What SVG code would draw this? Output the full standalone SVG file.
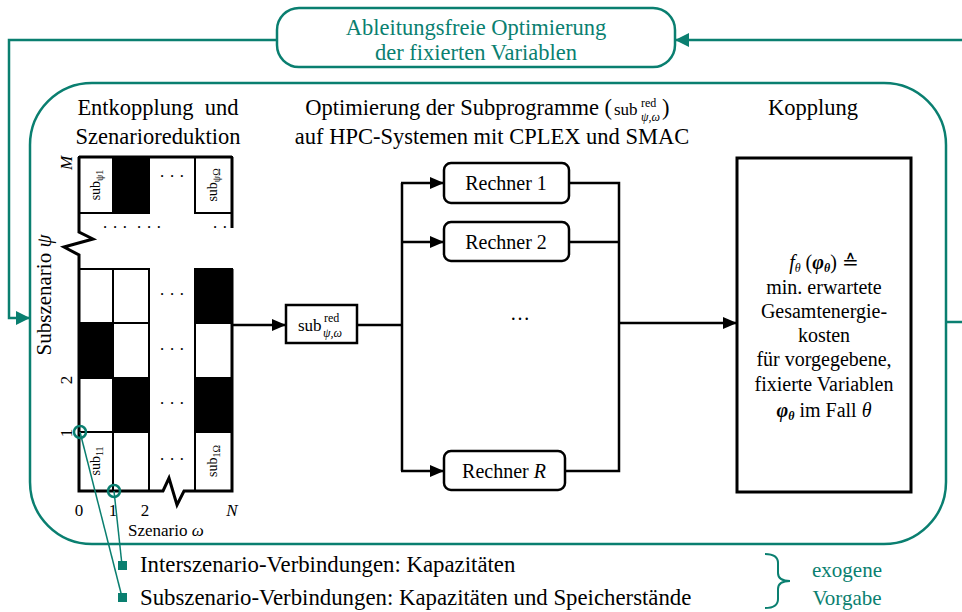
<svg xmlns="http://www.w3.org/2000/svg" width="962" height="612" viewBox="0 0 962 612">
<style>
text{font-family:"Liberation Serif","Times New Roman",serif;fill:#000}
.t{fill:#0a7f70}
.h{font-size:22.5px}
.k{font-size:20px}
.teal{fill:none;stroke:#0a7f70;stroke-width:2.5}
.blk{fill:none;stroke:#000;stroke-width:2.5}
.cw{fill:#fff;stroke:#000;stroke-width:2}
.cb{fill:#000;stroke:#000;stroke-width:2}
.lbl{font-size:14px}
.ax{font-size:17px}
.dot{font-size:17px}
</style>
<defs>
<marker id="ab" markerWidth="14" markerHeight="12" refX="14" refY="6" orient="auto" markerUnits="userSpaceOnUse"><path d="M0,0 L14,6 L0,12 z" fill="#000"/></marker>
<marker id="at" markerWidth="14" markerHeight="14" refX="14" refY="7" orient="auto" markerUnits="userSpaceOnUse"><path d="M0,0 L14,7 L0,14 z" fill="#0a7f70"/></marker>
</defs>
<rect width="962" height="612" fill="#fff"/>

<g id="frame">
<rect x="30" y="83" width="916" height="461" rx="62" class="teal"/>
</g>

<g id="opt-top">
<rect x="277" y="8" width="398" height="59" rx="22" class="teal" fill="#fff"/>
<text x="476" y="35" text-anchor="middle" class="t h">Ableitungsfreie Optimierung</text>
<text x="476" y="60" text-anchor="middle" class="t h">der fixierten Variablen</text>
</g>

<g id="headings">
<text x="158" y="115" text-anchor="middle" class="h" xml:space="preserve">Entkopplung  und</text>
<text x="158" y="144" text-anchor="middle" class="h">Szenarioreduktion</text>
<text x="612" y="115" text-anchor="end" class="h">Optimierung der Subprogramme (</text>
<text x="614" y="115" font-size="17px">sub</text>
<text x="641" y="107" font-size="12px">red</text>
<text x="641" y="121" font-size="12px" font-style="italic">ψ,ω</text>
<text x="662" y="115" class="h">)</text>
<text x="492" y="144" text-anchor="middle" class="h">auf HPC-Systemen mit CPLEX und SMAC</text>
<text x="813" y="115" text-anchor="middle" class="h">Kopplung</text>
</g>

<g id="grid">
<rect x="79" y="157" width="34" height="56" class="cw"/>
<rect x="113" y="157" width="36" height="56" class="cb"/>
<rect x="195" y="157" width="37" height="56" class="cw"/>
<line x1="79" y1="157" x2="232" y2="157" stroke="#000" stroke-width="3"/>
<rect x="79" y="269" width="34" height="54" class="cw"/>
<rect x="113" y="269" width="36" height="54" class="cw"/>
<rect x="195" y="269" width="37" height="54" class="cb"/>
<rect x="79" y="323" width="34" height="55" class="cb"/>
<rect x="113" y="323" width="36" height="55" class="cw"/>
<rect x="195" y="323" width="37" height="55" class="cw"/>
<rect x="79" y="378" width="34" height="54" class="cw"/>
<rect x="113" y="378" width="36" height="54" class="cb"/>
<rect x="195" y="378" width="37" height="54" class="cb"/>
<rect x="79" y="432" width="34" height="59" class="cw"/>
<rect x="113" y="432" width="36" height="59" class="cw"/>
<rect x="195" y="432" width="37" height="59" class="cw"/>
<polyline points="79,157 79,232 93,239 64,247 79,255 79,491 163,491 169,478 177,505 184,491 232,491 232,269" fill="none" stroke="#000" stroke-width="3"/>
<line x1="232" y1="157" x2="232" y2="228" stroke="#000" stroke-width="3"/>
<text x="172" y="182" text-anchor="middle" class="dot">· · ·</text>
<text x="132" y="233" text-anchor="middle" class="dot" xml:space="preserve">· · ·  · · ·</text>
<text x="220" y="233" text-anchor="middle" class="dot">· ·</text>
<text x="172" y="300" text-anchor="middle" class="dot">· · ·</text>
<text x="172" y="355" text-anchor="middle" class="dot">· · ·</text>
<text x="172" y="409" text-anchor="middle" class="dot">· · ·</text>
<text x="172" y="465" text-anchor="middle" class="dot">· · ·</text>
<text transform="translate(100,185) rotate(-90)" text-anchor="middle" class="lbl">sub<tspan font-size="10px" dy="3">ψ1</tspan></text>
<text transform="translate(217,185) rotate(-90)" text-anchor="middle" class="lbl">sub<tspan font-size="10px" dy="3">ψΩ</tspan></text>
<text transform="translate(100,461) rotate(-90)" text-anchor="middle" class="lbl">sub<tspan font-size="10px" dy="3">11</tspan></text>
<text transform="translate(217,461) rotate(-90)" text-anchor="middle" class="lbl">sub<tspan font-size="10px" dy="3">1Ω</tspan></text>
<text transform="translate(72,163) rotate(-90)" text-anchor="middle" class="ax" font-style="italic">M</text>
<text transform="translate(72,380) rotate(-90)" text-anchor="middle" class="ax">2</text>
<text transform="translate(72,433) rotate(-90)" text-anchor="middle" class="ax">1</text>
<text transform="translate(51,295) rotate(-90)" text-anchor="middle" font-size="21px">Subszenario <tspan font-style="italic">ψ</tspan></text>
<text x="79" y="516" text-anchor="middle" class="ax">0</text>
<text x="113" y="516" text-anchor="middle" class="ax">1</text>
<text x="145" y="516" text-anchor="middle" class="ax">2</text>
<text x="232" y="516" text-anchor="middle" class="ax" font-style="italic">N</text>
<text x="128" y="536" class="ax">Szenario <tspan font-style="italic">ω</tspan></text>
</g>

<g id="sub-red">
<rect x="286" y="305" width="71" height="38" class="blk" fill="#fff"/>
<text x="298" y="331" font-size="17px">sub</text>
<text x="324" y="322" font-size="12px">red</text>
<text x="323" y="337" font-size="12px" font-style="italic">ψ,ω</text>
</g>

<g id="rechner1">
<rect x="444" y="163" width="125" height="40" rx="7" class="blk" fill="#fff"/>
<text x="506" y="190" text-anchor="middle" class="k">Rechner 1</text>
</g>
<g id="rechner2">
<rect x="444" y="222" width="125" height="39" rx="7" class="blk" fill="#fff"/>
<text x="506" y="249" text-anchor="middle" class="k">Rechner 2</text>
</g>
<g id="rechnerR">
<rect x="444" y="451" width="121" height="39" rx="7" class="blk" fill="#fff"/>
<text x="504" y="478" text-anchor="middle" class="k">Rechner <tspan font-style="italic">R</tspan></text>
</g>
<text x="520" y="320" text-anchor="middle" class="k">…</text>

<g id="kopplung">
<rect x="737" y="158" width="174" height="334" fill="#fff" stroke="#000" stroke-width="3"/>
<text x="824" y="269" text-anchor="middle" class="k"><tspan font-style="italic">f</tspan><tspan font-style="italic" font-size="12px" dy="3">θ</tspan><tspan dy="-3"> (</tspan><tspan font-style="italic" font-weight="bold">φ</tspan><tspan font-style="italic" font-weight="bold" font-size="12px" dy="3">θ</tspan><tspan dy="-3">) ≙</tspan></text>
<text x="824" y="294" text-anchor="middle" class="k">min. erwartete</text>
<text x="824" y="318" text-anchor="middle" class="k">Gesamtenergie-</text>
<text x="824" y="342" text-anchor="middle" class="k">kosten</text>
<text x="824" y="366" text-anchor="middle" class="k">für vorgegebene,</text>
<text x="824" y="391" text-anchor="middle" class="k">fixierte Variablen</text>
<text x="824" y="417" text-anchor="middle" class="k"><tspan font-style="italic" font-weight="bold">φ</tspan><tspan font-style="italic" font-weight="bold" font-size="12px" dy="3">θ</tspan><tspan dy="-3"> im Fall </tspan><tspan font-style="italic">θ</tspan></text>
</g>

<g id="legend">
<rect x="118" y="561" width="9" height="9" fill="#0a7f70"/>
<rect x="118" y="593" width="9" height="9" fill="#0a7f70"/>
<text x="140" y="572" font-size="22.8px">Interszenario-Verbindungen: Kapazitäten</text>
<text x="140" y="605" font-size="22.8px">Subszenario-Verbindungen: Kapazitäten und Speicherstände</text>
<path d="M765,554 Q778,554 778,563 L778,573 Q778,581 790,581 Q778,581 778,589 L778,599 Q778,608 765,608" fill="none" stroke="#0a7f70" stroke-width="2"/>
<text x="847" y="577" text-anchor="middle" class="t" font-size="21px">exogene</text>
<text x="847" y="605" text-anchor="middle" class="t" font-size="21px">Vorgabe</text>
</g>

<g id="connectors">
<polyline points="277,40 9,40 9,318 30,318" fill="none" stroke="#0a7f70" stroke-width="2.5" marker-end="url(#at)"/>
<line x1="962" y1="40" x2="675" y2="40" stroke="#0a7f70" stroke-width="2.5" marker-end="url(#at)"/>
<line x1="946" y1="322" x2="962" y2="322" stroke="#0a7f70" stroke-width="2.5"/>
<line x1="232" y1="325" x2="286" y2="325" stroke="#000" stroke-width="2.5" marker-end="url(#ab)"/>
<polyline points="357,325 402,325" fill="none" stroke="#000" stroke-width="2.5"/>
<line x1="402" y1="183" x2="402" y2="471" stroke="#000" stroke-width="2.5"/>
<line x1="401" y1="183" x2="444" y2="183" stroke="#000" stroke-width="2.5" marker-end="url(#ab)"/>
<line x1="401" y1="242" x2="444" y2="242" stroke="#000" stroke-width="2.5" marker-end="url(#ab)"/>
<line x1="401" y1="471" x2="444" y2="471" stroke="#000" stroke-width="2.5" marker-end="url(#ab)"/>
<polyline points="569,183 619,183 619,471 565,471" fill="none" stroke="#000" stroke-width="2.5"/>
<line x1="569" y1="242" x2="619" y2="242" stroke="#000" stroke-width="2.5"/>
<line x1="619" y1="323" x2="737" y2="323" stroke="#000" stroke-width="2.5" marker-end="url(#ab)"/>
<circle cx="80" cy="432" r="6" fill="none" stroke="#0a7f70" stroke-width="2.5"/>
<circle cx="114" cy="491" r="6" fill="none" stroke="#0a7f70" stroke-width="2.5"/>
<line x1="80" y1="432" x2="122" y2="597" stroke="#0a7f70" stroke-width="1.5"/>
<line x1="114" y1="491" x2="122" y2="565" stroke="#0a7f70" stroke-width="1.5"/>
</g>
</svg>
